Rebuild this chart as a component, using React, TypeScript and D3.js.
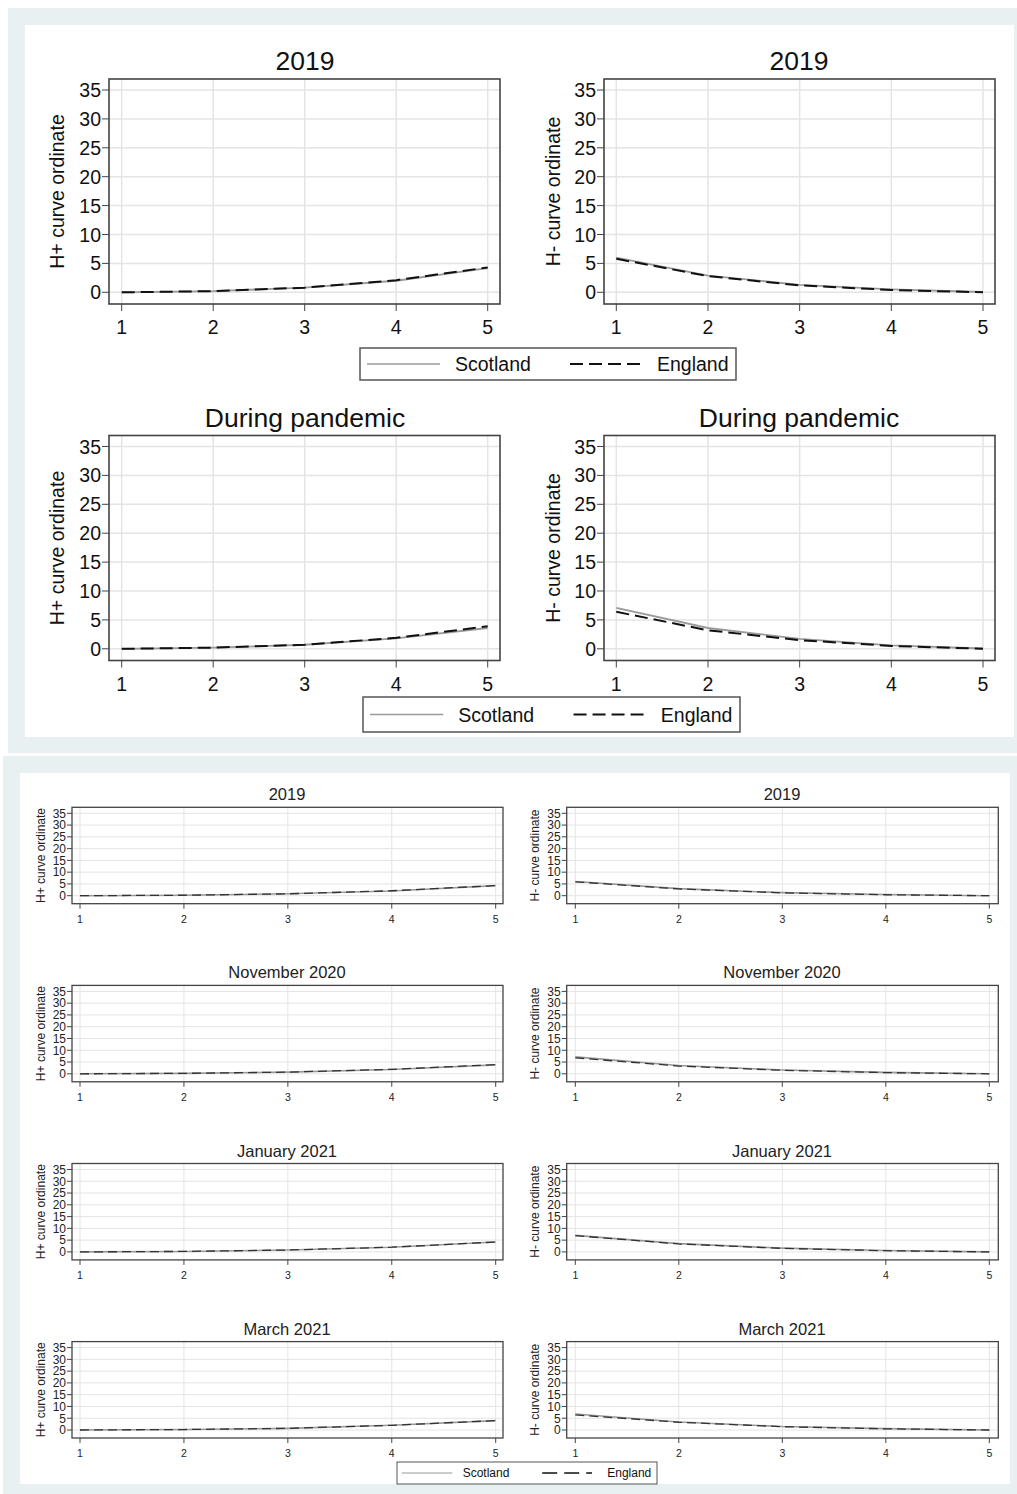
import React from "react";
import * as d3 from "d3";

const xCats = [1, 2, 3, 4, 5];
const yTicks = [0, 5, 10, 15, 20, 25, 30, 35];
const seriesNames = ["Scotland", "England"];

// Top figure
const top2019HplusScotland = [0, 0.2, 0.8, 2.0, 4.2];
const top2019HplusEngland = [0, 0.2, 0.8, 2.1, 4.3];
const top2019HminusScotland = [6.0, 2.9, 1.3, 0.5, 0.05];
const top2019HminusEngland = [5.8, 2.8, 1.2, 0.4, 0];
const pandemicHplusScotland = [0, 0.2, 0.7, 1.8, 3.6];
const pandemicHplusEngland = [0, 0.2, 0.7, 1.9, 3.9];
const pandemicHminusScotland = [7.1, 3.6, 1.7, 0.6, 0.05];
const pandemicHminusEngland = [6.4, 3.2, 1.5, 0.5, 0];

// Bottom figure
const bottomTitles = ["2019", "November 2020", "January 2021", "March 2021"];
const bottomHplusScotland = [
  [0, 0.2, 0.8, 2.0, 4.3],
  [0, 0.2, 0.7, 1.8, 3.8],
  [0, 0.2, 0.8, 2.0, 4.2],
  [0, 0.2, 0.7, 2.0, 4.0],
];
const bottomHplusEngland = [
  [0, 0.2, 0.8, 2.1, 4.3],
  [0, 0.2, 0.7, 1.9, 3.9],
  [0, 0.2, 0.8, 2.0, 4.2],
  [0, 0.2, 0.7, 2.0, 4.0],
];
const bottomHminusScotland = [
  [6.0, 3.0, 1.3, 0.5, 0],
  [7.2, 3.5, 1.6, 0.6, 0],
  [7.0, 3.5, 1.6, 0.6, 0],
  [6.8, 3.4, 1.5, 0.6, 0],
];
const bottomHminusEngland = [
  [5.9, 2.9, 1.2, 0.4, 0],
  [6.8, 3.3, 1.5, 0.5, 0],
  [6.9, 3.4, 1.5, 0.5, 0],
  [6.4, 3.3, 1.4, 0.5, 0],
];

const FONT = "'Liberation Sans', Arial, sans-serif";
const BG = "#e8f0f2";

type PanelProps = {
  fx0: number; fx1: number; fy0: number; fy1: number;
  px1: number; px5: number; py0: number; py35: number;
  title: string; titleX: number; titleY: number; titleSize: number;
  ylabel: string; ylabelX: number; labelSize: number; tickSize: number; xTickSize: number;
  xLabelDy: number; tickLen: number;
  scot: number[]; eng: number[];
  small: boolean;
};

function Panel(p: PanelProps) {
  const x = d3.scaleLinear().domain([1, 5]).range([p.px1, p.px5]);
  const y = d3.scaleLinear().domain([0, 35]).range([p.py0, p.py35]);
  const line = d3.line<number>().x((_, i) => x(xCats[i])).y((d) => y(d));
  const gridW = p.small ? 1 : 1.5;
  const textColor = p.small ? "#222" : "#111";
  return (
    <g>
      <rect x={p.fx0} y={p.fy0} width={p.fx1 - p.fx0} height={p.fy1 - p.fy0} fill="#fff" />
      {yTicks.map((t) => (
        <line key={"gy" + t} x1={p.fx0} x2={p.fx1} y1={y(t)} y2={y(t)} stroke="#e4e4e4" strokeWidth={gridW} />
      ))}
      {xCats.map((t) => (
        <line key={"gx" + t} x1={x(t)} x2={x(t)} y1={p.fy0} y2={p.fy1} stroke="#e4e4e4" strokeWidth={gridW} />
      ))}
      <path d={line(p.scot) || ""} fill="none" stroke="#9a9a9a" strokeWidth={p.small ? 1.6 : 1.8} />
      <path d={line(p.eng) || ""} fill="none" stroke={p.small ? "#333" : "#111"} strokeWidth={p.small ? 1.3 : 2}
        strokeDasharray={p.small ? "9,5" : "13,6"} />
      <rect x={p.fx0} y={p.fy0} width={p.fx1 - p.fx0} height={p.fy1 - p.fy0} fill="none"
        stroke="#444" strokeWidth={p.small ? 1.3 : 1.6} />
      {yTicks.map((t) => (
        <g key={"ty" + t}>
          <line x1={p.fx0 - p.tickLen} x2={p.fx0} y1={y(t)} y2={y(t)} stroke="#444" strokeWidth={1} />
          <text x={p.fx0 - p.tickLen - 1} y={y(t)} dy="0.36em" textAnchor="end" fontSize={p.tickSize}
            fontFamily={FONT} fill={textColor}>{t}</text>
        </g>
      ))}
      {xCats.map((t) => (
        <g key={"tx" + t}>
          <line x1={x(t)} x2={x(t)} y1={p.fy1} y2={p.fy1 + p.tickLen} stroke="#444" strokeWidth={1} />
          <text x={x(t)} y={p.fy1 + p.xLabelDy} textAnchor="middle" fontSize={p.xTickSize}
            fontFamily={FONT} fill={textColor}>{t}</text>
        </g>
      ))}
      <text x={p.titleX} y={p.titleY} textAnchor="middle" fontSize={p.titleSize} fontFamily={FONT} fill={textColor}>
        {p.title}
      </text>
      <text transform={`translate(${p.ylabelX},${(p.fy0 + p.fy1) / 2}) rotate(-90)`} textAnchor="middle"
        dy="0.36em" fontSize={p.labelSize} fontFamily={FONT} fill={textColor}>{p.ylabel}</text>
    </g>
  );
}

type LegendProps = { x0: number; x1: number; y0: number; y1: number; small: boolean };
function Legend(l: LegendProps) {
  const w = l.x1 - l.x0;
  const cy = (l.y0 + l.y1) / 2;
  const s = w / 376;
  const fs = l.small ? 12 : 19.5;
  return (
    <g>
      <rect x={l.x0} y={l.y0} width={w} height={l.y1 - l.y0} fill="#fff" stroke="#555" strokeWidth={l.small ? 1 : 1.5} />
      <line x1={l.x0 + 7 * s} x2={l.x0 + 80 * s} y1={cy} y2={cy} stroke="#9a9a9a" strokeWidth={l.small ? 1.2 : 1.6} />
      <text x={l.x0 + 95 * s} y={cy} dy="0.36em" fontSize={fs} fontFamily={FONT} fill="#111">{seriesNames[0]}</text>
      <line x1={l.x0 + 210 * s} x2={l.x0 + 282 * s} y1={cy} y2={cy} stroke="#111" strokeWidth={l.small ? 1.3 : 2}
        strokeDasharray={l.small ? "15,7" : "13,6"} />
      <text x={l.x0 + (l.small ? 304 : 297) * s} y={cy} dy="0.36em" fontSize={fs} fontFamily={FONT} fill="#111">{seriesNames[1]}</text>
    </g>
  );
}

export default function App() {
  const topRows = [
    { title: "2019", hp: [top2019HplusScotland, top2019HplusEngland], hm: [top2019HminusScotland, top2019HminusEngland] },
    { title: "During pandemic", hp: [pandemicHplusScotland, pandemicHplusEngland], hm: [pandemicHminusScotland, pandemicHminusEngland] },
  ];
  const topPanels: React.ReactNode[] = [];
  topRows.forEach((r, i) => {
    const off = i * 356.5;
    const common = {
      fy0: 79 + off, fy1: 304 + off, py0: 292.3 + off, py35: 90 + off,
      titleY: 70 + off, titleSize: 26.5, labelSize: 19.5, tickSize: 19.5, xTickSize: 19.5, xLabelDy: 30, tickLen: 7,
      title: r.title, small: false,
    };
    topPanels.push(
      <Panel key={"tl" + i} {...common} fx0={109} fx1={500} px1={121.7} px5={487.7} titleX={305}
        ylabel="H+ curve ordinate" ylabelX={57} scot={r.hp[0]} eng={r.hp[1]} />
    );
    topPanels.push(
      <Panel key={"tr" + i} {...common} fx0={604} fx1={995} px1={616.3} px5={983} titleX={799}
        ylabel="H- curve ordinate" ylabelX={553} scot={r.hm[0]} eng={r.hm[1]} />
    );
  });

  const bottomPanels: React.ReactNode[] = [];
  bottomTitles.forEach((t, i) => {
    const py0 = 895.7 + i * 178.1;
    const py35 = py0 - 82.4;
    const common = {
      fy0: py35 - 6, fy1: py0 + 8, py0, py35,
      titleY: py35 - 13, titleSize: 16.5, labelSize: 12, tickSize: 12, xTickSize: 10.5, xLabelDy: 19, tickLen: 5,
      title: t, small: true,
    };
    bottomPanels.push(
      <Panel key={"bl" + i} {...common} fx0={72} fx1={503} px1={80} px5={495.7} titleX={287}
        ylabel="H+ curve ordinate" ylabelX={41} scot={bottomHplusScotland[i]} eng={bottomHplusEngland[i]} />
    );
    bottomPanels.push(
      <Panel key={"br" + i} {...common} fx0={566.7} fx1={998.3} px1={575.3} px5={989.3} titleX={782}
        ylabel="H- curve ordinate" ylabelX={535} scot={bottomHminusScotland[i]} eng={bottomHminusEngland[i]} />
    );
  });

  return (
    <svg width={1017} height={1494} style={{ position: "absolute", left: 0, top: 0, background: "#fff" }}>
      <rect x={8} y={8} width={1009} height={745} fill={BG} />
      <rect x={25} y={25} width={989} height={712} fill="#fff" />
      <rect x={3} y={756} width={1014} height={738} fill={BG} />
      <rect x={20} y={773} width={990} height={711} fill="#fff" />
      {topPanels}
      <Legend x0={360} x1={736} y0={348} y1={380} small={false} />
      <Legend x0={363} x1={740} y0={697} y1={732} small={false} />
      {bottomPanels}
      <Legend x0={397} x1={657} y0={1462} y1={1484} small={true} />
    </svg>
  );
}
